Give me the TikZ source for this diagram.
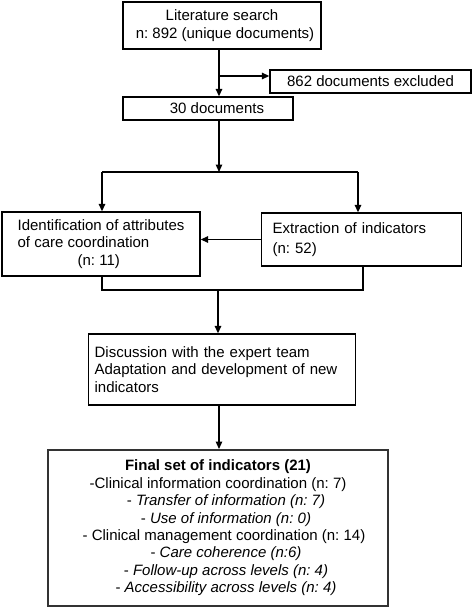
\documentclass[tikz,border=0pt]{standalone}
\usepackage{fontspec}
\setmainfont{Liberation Sans}
\usetikzlibrary{arrows.meta}
\begin{document}
\frenchspacing
\begin{tikzpicture}[x=1pt,y=-1pt,
  box/.style={draw=black, line width=1.3pt, inner sep=0pt, font=\frenchspacing\fontsize{15}{17.4}\selectfont},
  arr/.style={line width=1.3pt, -{Triangle[length=7.5pt,width=6.5pt]}},
  ln/.style={line width=1.3pt}]
\useasboundingbox (0,0) rectangle (472,608);
\node[box, minimum width=198pt, minimum height=47pt, align=center] (lit) at (222,25.5) {Literature search\\[0.6pt] \hspace*{6pt}n: 892 (unique documents)};
\node[box, minimum width=201pt, minimum height=23pt] (exc) at (370.5,81.5) {862 documents excluded};
\node[box, minimum width=170pt, minimum height=23pt] (doc) at (208,108.5) {\hspace*{18pt}30 documents};
\node[box, minimum width=198pt, minimum height=64pt, align=left] (att) at (101,244) {Identification of attributes\\ of care coordination\\ \hspace*{60pt}(n: 11)};
\node[box, anchor=west, minimum height=53pt, text width=178pt, inner xsep=11pt, align=left] (ext) at (261,239.5) {Extraction of indicators\\[2.6pt] (n: 52)};
\node[box, anchor=west, minimum height=71pt, text width=255pt, inner xsep=6pt, align=left] (dis) at (88,369.5) {Discussion with the expert team\\ Adaptation and development of new\\ indicators};
\node[box, line width=2pt, draw=black!80, minimum width=340pt, minimum height=156pt, align=center] (fin) at (218,528) {\textbf{Final set of indicators (21)}\\
-Clinical information coordination (n: 7)\\
\hspace*{16pt}- \textit{Transfer of information (n: 7)}\\
\hspace*{16pt}- \textit{Use of information (n: 0)}\\
\hspace*{12pt}- Clinical management coordination (n: 14)\\
\hspace*{16pt}- \textit{Care coherence (n:6)}\\
\hspace*{16pt}- \textit{Follow-up across levels (n: 4)}\\
\hspace*{16pt}- \textit{Accessibility across levels (n: 4)}};
\coordinate (j1) at (219,76);
\coordinate (j2) at (219,172);
\coordinate (sl) at (102,172);
\coordinate (sr) at (358,172);
\coordinate (ml) at (102,290);
\coordinate (mr) at (363,290);
\coordinate (jm) at (218,290);
\draw[arr] (lit.south -| j1) -- (doc.north -| j1);
\draw[arr] (j1) -- (j1 -| exc.west);
\draw[arr] (doc.south -| j2) -- (j2);
\draw[ln] (sl) -- (sr);
\draw[arr] (sl) -- (sl |- att.north);
\draw[arr] (sr) -- (sr |- ext.north);
\draw[arr] (ext.west) -- (att.east |- ext.west);
\draw[ln] (att.south -| ml) -- (ml) -- (mr) -- (ext.south -| mr);
\draw[arr] (jm) -- (dis.north -| jm);
\draw[arr] (dis.south -| j2) -- (fin.north -| j2);
\end{tikzpicture}
\end{document}
